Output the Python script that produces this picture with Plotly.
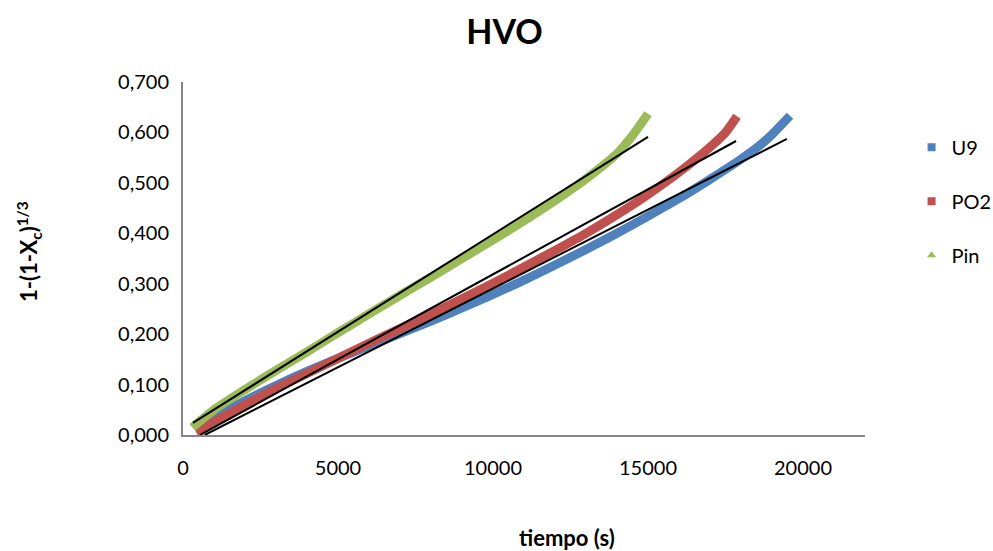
import plotly.graph_objects as go

# ---- data ----
u9_t = [500, 1000, 2000, 3000, 4000, 5000, 6000, 7000, 8000, 9000, 10000, 11000, 12000,
        13000, 14000, 15000, 16000, 17000, 18000, 18600, 19000, 19580]
u9_y = [0.012, 0.034, 0.068, 0.098, 0.126, 0.152, 0.177, 0.201, 0.226, 0.252, 0.279, 0.307, 0.337,
        0.368, 0.400, 0.434, 0.469, 0.507, 0.547, 0.574, 0.596, 0.633]

po2_t = [420, 1000, 2000, 3000, 4000, 5000, 6000, 7000, 8000, 9000, 10000, 11000, 12000,
         13000, 14000, 15000, 16000, 17000, 17500, 17870]
po2_y = [0.006, 0.026, 0.060, 0.092, 0.122, 0.152, 0.182, 0.211, 0.240, 0.270, 0.301, 0.333, 0.366,
         0.400, 0.437, 0.477, 0.521, 0.571, 0.600, 0.632]

pin_t = [300, 1000, 2000, 3000, 4000, 5000, 6000, 7000, 8000, 9000, 10000, 11000, 12000,
         13000, 13500, 14000, 14500, 15000]
pin_y = [0.015, 0.050, 0.090, 0.128, 0.165, 0.203, 0.240, 0.277, 0.313, 0.350, 0.387, 0.425, 0.465,
         0.508, 0.532, 0.558, 0.594, 0.637]

# linear trendlines (endpoints)
fit_u9_t = [700, 19480]
fit_u9_y = [0.0, 0.587]
fit_po2_t = [550, 17840]
fit_po2_y = [0.0, 0.583]
fit_pin_t = [320, 15000]
fit_pin_y = [0.024, 0.591]

names = ["U9", "PO2", "Pin"]
colors = ["#4F81BD", "#C0504D", "#9BBB59"]
symbols = ["square", "square", "triangle-up"]

x_ticks = [0, 5000, 10000, 15000, 20000]
y_ticks = [0.0, 0.1, 0.2, 0.3, 0.4, 0.5, 0.6, 0.7]

FONT = "Lato, 'Open Sans', sans-serif"

fig = go.Figure()

series = [(u9_t, u9_y), (po2_t, po2_y), (pin_t, pin_y)]
for (t, y), c in zip(series, colors):
    fig.add_trace(go.Scatter(x=t, y=y, mode="lines",
                             line=dict(color=c, width=9, shape="spline", smoothing=0.8),
                             showlegend=False, hoverinfo="skip"))

for ft, fy in [(fit_u9_t, fit_u9_y), (fit_po2_t, fit_po2_y), (fit_pin_t, fit_pin_y)]:
    fig.add_trace(go.Scatter(x=ft, y=fy, mode="lines", line=dict(color="black", width=2),
                             showlegend=False, hoverinfo="skip"))

# legend entries
for n, c, s in zip(names, colors, symbols):
    fig.add_trace(go.Scatter(x=[None], y=[None], mode="markers", name=n, legendgroup=n,
                             marker=dict(color=c, symbol=s, size=8)))

fig.update_layout(
    width=993, height=551,
    margin=dict(l=183, r=128, t=82, b=116, autoexpand=False),
    paper_bgcolor="white", plot_bgcolor="white",
    separators=",.",
    font=dict(family=FONT, size=20, color="black"),
    title=dict(text="<b>HVO</b>", x=0.508, xanchor="center", y=0.942, yanchor="middle",
               font=dict(size=34, family=FONT)),
    showlegend=True,
    legend=dict(xref="container", yref="container", x=0.918, y=0.768,
                xanchor="left", yanchor="top",
                font=dict(size=20, family=FONT), tracegroupgap=25,
                traceorder="grouped", itemwidth=30),
    xaxis=dict(range=[0, 22000], tickvals=x_ticks, tickformat="d", showgrid=False,
               zeroline=False, showline=True, linecolor="#868686", linewidth=2,
               ticks="", ticklabelstandoff=14, tickfont=dict(size=20)),
    yaxis=dict(range=[0, 0.7], tickvals=y_ticks, tickformat=".3f", showgrid=False,
               zeroline=False, showline=True, linecolor="#868686", linewidth=2,
               ticks="", ticklabelstandoff=8, tickfont=dict(size=20)),
    annotations=[
        dict(text="<b>tiempo (s)</b>", xref="paper", yref="paper", x=0.563, y=-0.29,
             xanchor="center", yanchor="middle", showarrow=False, font=dict(size=22)),
        dict(text="<b>1-(1-X<sub>c</sub>)<sup>1/3</sup></b>", xref="paper", yref="paper",
             x=-0.225, y=0.52, xanchor="center", yanchor="middle", textangle=-90,
             showarrow=False, font=dict(size=22)),
    ],
)

fig.write_html("out.html")
